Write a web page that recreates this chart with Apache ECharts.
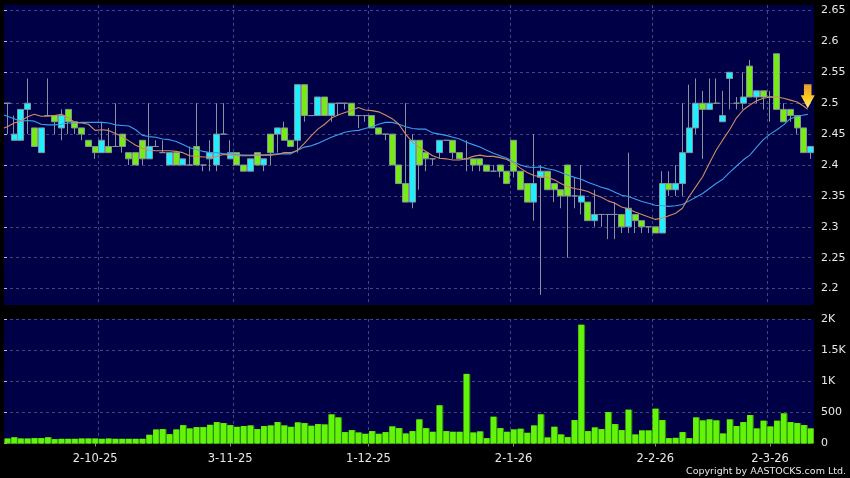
<!DOCTYPE html>
<html><head><meta charset="utf-8">
<style>html,body{margin:0;padding:0;background:#000}#c{width:850px;height:478px}</style>
<script src="https://cdn.jsdelivr.net/npm/echarts@6/dist/echarts.min.js"></script>
</head><body><div id="c"></div>
<script>
// [open, close, low, high]; cyan = close above open, green = close below open
const ohlc = [
[2.5,2.5,2.45,2.5],[2.44,2.45,2.44,2.48],[2.44,2.49,2.44,2.49],[2.49,2.5,2.45,2.54],[2.46,2.43,2.43,2.46],
[2.42,2.46,2.42,2.46],[2.48,2.48,2.48,2.54],[2.48,2.47,2.45,2.48],[2.46,2.48,2.44,2.49],[2.49,2.47,2.45,2.49],
[2.47,2.46,2.45,2.47],[2.46,2.45,2.44,2.46],[2.44,2.43,2.43,2.44],[2.43,2.42,2.41,2.43],[2.42,2.44,2.42,2.47],
[2.43,2.42,2.42,2.46],[2.43,2.43,2.43,2.5],[2.45,2.43,2.42,2.45],[2.42,2.41,2.4,2.42],[2.42,2.4,2.4,2.42],
[2.44,2.41,2.4,2.44],[2.41,2.43,2.41,2.5],[2.43,2.43,2.43,2.44],[2.42,2.42,2.42,2.44],[2.4,2.42,2.4,2.42],
[2.42,2.4,2.4,2.42],[2.4,2.41,2.4,2.41],[2.4,2.4,2.4,2.43],[2.43,2.4,2.4,2.5],[2.4,2.4,2.39,2.4],
[2.41,2.42,2.39,2.44],[2.4,2.45,2.39,2.5],[2.45,2.45,2.45,2.5],[2.41,2.42,2.41,2.44],[2.42,2.4,2.4,2.42],
[2.4,2.39,2.39,2.4],[2.39,2.41,2.39,2.41],[2.42,2.4,2.4,2.42],[2.4,2.41,2.39,2.41],[2.45,2.42,2.4,2.45],
[2.45,2.46,2.42,2.46],[2.46,2.44,2.44,2.47],[2.44,2.43,2.43,2.44],[2.44,2.53,2.42,2.53],[2.53,2.48,2.47,2.53],
[2.48,2.48,2.48,2.48],[2.48,2.51,2.48,2.51],[2.51,2.48,2.48,2.51],[2.48,2.5,2.47,2.5],[2.5,2.5,2.48,2.5],
[2.5,2.5,2.49,2.5],[2.5,2.48,2.48,2.5],[2.48,2.48,2.46,2.48],[2.48,2.48,2.47,2.48],[2.48,2.46,2.46,2.48],
[2.46,2.45,2.45,2.46],[2.45,2.45,2.44,2.45],[2.45,2.4,2.4,2.45],[2.4,2.37,2.37,2.4],[2.37,2.34,2.34,2.5],
[2.34,2.44,2.33,2.45],[2.44,2.4,2.36,2.44],[2.42,2.41,2.39,2.42],[2.41,2.41,2.4,2.41],[2.42,2.44,2.41,2.44],
[2.44,2.44,2.44,2.44],[2.44,2.42,2.41,2.44],[2.42,2.41,2.41,2.42],[2.41,2.41,2.39,2.44],[2.41,2.4,2.39,2.41],
[2.41,2.4,2.39,2.41],[2.4,2.39,2.39,2.4],[2.39,2.39,2.39,2.4],[2.4,2.39,2.38,2.4],[2.39,2.37,2.37,2.39],
[2.44,2.39,2.38,2.44],[2.39,2.36,2.36,2.39],[2.37,2.34,2.34,2.37],[2.34,2.37,2.31,2.45],[2.38,2.39,2.19,2.4],
[2.39,2.36,2.36,2.39],[2.37,2.36,2.34,2.37],[2.36,2.35,2.33,2.36],[2.4,2.35,2.25,2.4],[2.35,2.35,2.33,2.38],
[2.34,2.35,2.32,2.4],[2.34,2.31,2.31,2.34],[2.31,2.32,2.3,2.36],[2.32,2.32,2.3,2.32],[2.32,2.32,2.28,2.32],
[2.32,2.32,2.28,2.34],[2.32,2.3,2.29,2.32],[2.3,2.33,2.29,2.42],[2.32,2.31,2.29,2.32],[2.31,2.3,2.29,2.31],
[2.3,2.3,2.29,2.3],[2.3,2.29,2.29,2.3],[2.29,2.37,2.29,2.39],[2.37,2.36,2.35,2.39],[2.36,2.37,2.35,2.4],
[2.37,2.42,2.35,2.5],[2.42,2.46,2.42,2.53],[2.46,2.5,2.45,2.54],[2.5,2.49,2.41,2.52],[2.49,2.5,2.49,2.54],
[2.5,2.5,2.5,2.54],[2.47,2.48,2.47,2.52],[2.54,2.55,2.49,2.55],[2.5,2.5,2.49,2.51],[2.5,2.51,2.49,2.55],
[2.56,2.51,2.51,2.57],[2.51,2.52,2.5,2.52],[2.52,2.51,2.49,2.52],[2.51,2.51,2.47,2.52],[2.58,2.49,2.49,2.58],
[2.49,2.47,2.47,2.5],[2.49,2.48,2.47,2.49],[2.48,2.46,2.45,2.48],[2.46,2.42,2.42,2.46],[2.42,2.43,2.41,2.43]
];
// moving averages: first value is at the left edge, the rest at each bar centre
const ma10 = [2.46,2.462,2.468,2.471,2.478,2.482,2.479,2.479,2.48,2.482,2.477,2.469,2.468,2.466,2.456,2.457,2.456,2.451,2.446,2.439,
2.432,2.427,2.424,2.423,2.423,2.423,2.422,2.42,2.415,2.414,2.413,2.413,2.414,2.417,2.416,2.415,2.415,2.415,2.416,2.416,
2.416,2.417,2.42,2.42,2.424,2.435,2.447,2.458,2.466,2.476,2.481,2.485,2.488,2.493,2.489,2.488,2.486,2.481,2.475,2.466,
2.45,2.437,2.429,2.422,2.415,2.411,2.41,2.408,2.408,2.41,2.414,2.416,2.414,2.414,2.412,2.409,2.403,2.395,2.388,2.383,
2.381,2.38,2.376,2.37,2.365,2.362,2.36,2.357,2.352,2.348,2.342,2.338,2.332,2.329,2.324,2.32,2.316,2.312,2.314,2.318,
2.322,2.33,2.349,2.365,2.381,2.403,2.424,2.441,2.457,2.476,2.489,2.497,2.504,2.508,2.51,2.51,2.508,2.505,2.502,2.495,2.49];
const ma20 = [2.481,2.479,2.475,2.471,2.472,2.471,2.466,2.465,2.465,2.466,2.468,2.468,2.469,2.469,2.469,2.469,2.468,2.465,2.464,2.463,
2.457,2.448,2.446,2.445,2.442,2.441,2.438,2.433,2.428,2.425,2.422,2.42,2.42,2.418,2.418,2.417,2.416,2.416,2.416,2.416,
2.417,2.418,2.418,2.418,2.424,2.429,2.431,2.435,2.44,2.445,2.449,2.453,2.455,2.456,2.459,2.462,2.466,2.469,2.469,2.466,
2.462,2.459,2.458,2.458,2.452,2.45,2.448,2.445,2.442,2.437,2.433,2.429,2.424,2.419,2.415,2.411,2.405,2.4,2.397,2.396,
2.397,2.394,2.392,2.388,2.384,2.38,2.377,2.372,2.368,2.364,2.361,2.356,2.351,2.349,2.345,2.341,2.338,2.335,2.334,2.333,
2.334,2.336,2.342,2.348,2.354,2.362,2.37,2.377,2.388,2.398,2.408,2.416,2.429,2.441,2.45,2.457,2.465,2.475,2.479,2.481,2.482];
const volume = [80,100,80,80,86,86,100,70,75,75,75,80,80,80,75,80,75,75,75,75,75,140,225,231,150,225,295,242,263,263,
300,344,328,295,268,280,290,231,280,290,344,290,268,339,328,285,312,306,468,419,183,215,177,156,199,156,183,274,247,161,
199,387,247,188,613,199,188,188,1118,177,194,86,430,247,188,226,237,172,290,468,97,269,145,102,376,1908,199,258,231,505,
312,215,543,145,210,210,559,376,86,91,183,86,419,371,387,371,161,387,280,344,457,242,366,274,366,484,344,328,296,242];
const dates = ohlc.map((_, i) => String(i));
const priceTicks = [2.2,2.25,2.3,2.35,2.4,2.45,2.5,2.55,2.6,2.65];
const dateLabels = {13.5:'2-10-25',33.5:'3-11-25',54:'1-12-25',75.5:'2-1-26',96.5:'2-2-26',113.5:'2-3-26'};
const dateGrid = [14,34,54,75,96,113];
const volumeLabel = v => v >= 1000 ? (v/1000)+'K' : String(v);

const GREEN='#77ec14', CYAN='#1ff0ff', EDGE='#84949c', PLOT='#000046', GRIDC='#45457e', TXT='#e8e8e8';
const FONT='"DejaVu Sans"';
const left=4, width=810;
const gridAxis=(gi,extra)=>Object.assign({type:'value',gridIndex:gi,min:0,max:120,silent:true,
  axisLine:{show:false},axisTick:{show:false},axisLabel:{show:false},splitLine:{show:false}},extra);
const catAxis=gi=>({type:'category',gridIndex:gi,data:dates,boundaryGap:true,axisLine:{show:false},axisTick:{show:false},axisLabel:{show:false},splitLine:{show:false}});
const dashed={show:true,lineStyle:{color:GRIDC,type:[3,3],width:1}};
const pos=(v,i)=>[Math.min(i===0?0:i-0.5,119.07),v];

const chart=echarts.init(document.getElementById('c'),null,{renderer:'canvas'});
chart.setOption({
  animation:false,backgroundColor:'#000',
  grid:[
    {left,width,top:5,height:300,backgroundColor:PLOT,show:true,borderWidth:0},
    {left,width,top:319,height:124.5,backgroundColor:PLOT,show:true,borderWidth:0}
  ],
  xAxis:[
    catAxis(0),catAxis(1),
    gridAxis(0,{axisTick:{show:false,customValues:dateGrid},axisLabel:{show:false,customValues:dateGrid},splitLine:dashed}),
    gridAxis(1,{axisTick:{show:false,customValues:dateGrid},axisLabel:{show:false,customValues:dateGrid},splitLine:dashed}),
    gridAxis(1,{position:'bottom',
      axisTick:{show:true,length:3,customValues:Object.keys(dateLabels).map(Number),lineStyle:{color:'#888'}},
      axisLabel:{show:true,customValues:Object.keys(dateLabels).map(Number),formatter:v=>dateLabels[v]||'',color:TXT,fontFamily:FONT,fontSize:11.5,margin:10,hideOverlap:false,showMinLabel:true,showMaxLabel:true}})
  ],
  yAxis:[
    {type:'value',gridIndex:0,position:'right',offset:4,min:2.1735,max:2.6589,interval:0.05,
     axisLine:{show:false},axisTick:{show:true,length:3,customValues:priceTicks,lineStyle:{color:'#bbb'}},
     axisLabel:{color:TXT,fontFamily:FONT,fontSize:11,margin:3,customValues:priceTicks,formatter:v=>String(+v.toFixed(2))},
     splitLine:Object.assign({},dashed,{customValues:priceTicks})},
    {type:'value',gridIndex:1,position:'right',offset:4,min:0,max:2000,interval:500,
     axisLine:{show:false},axisTick:{show:true,length:3,lineStyle:{color:'#bbb'}},
     axisLabel:{color:TXT,fontFamily:FONT,fontSize:11,margin:3,formatter:volumeLabel,showMinLabel:true,showMaxLabel:true},
     splitLine:dashed}
  ],
  series:[
    {type:'candlestick',xAxisIndex:0,yAxisIndex:0,data:ohlc,barWidth:6.6,
     itemStyle:{color:CYAN,color0:GREEN,borderColor:EDGE,borderColor0:EDGE,borderColorDoji:EDGE,borderWidth:1},z:3},
    {type:'line',xAxisIndex:2,yAxisIndex:0,data:ma20.map(pos),showSymbol:false,lineStyle:{color:'#3a9fe8',width:1.1},z:4,silent:true},
    {type:'line',xAxisIndex:2,yAxisIndex:0,data:ma10.map(pos),showSymbol:false,lineStyle:{color:'#d08c62',width:1.1},z:5,silent:true,
     markPoint:{silent:true,symbol:'path://M5.5,0 H18.5 V13 H24 L12,28 L0,13 H5.5 Z',symbolSize:[14,24],symbolOffset:[0,-7],
       itemStyle:{color:new echarts.graphic.LinearGradient(0,0,0,1,[{offset:0,color:'#dd9f30'},{offset:0.55,color:'#ffc81e'},{offset:1,color:'#fff27a'}]),borderWidth:0},
       label:{show:false},data:[{coord:[119.07,2.5]}]}},
    {type:'bar',xAxisIndex:1,yAxisIndex:1,data:volume,barWidth:6.75,barGap:'-100%',itemStyle:{color:'#2f8a0c'},z:3,silent:true},
    {type:'bar',xAxisIndex:1,yAxisIndex:1,data:volume,barWidth:5.6,barGap:'-100%',itemStyle:{color:'#62f50a'},z:4}
  ],
  graphic:[{type:'text',right:4,top:467,style:{text:'Copyright by AASTOCKS.com Ltd.',fill:TXT,font:'9.5px "DejaVu Sans"'}}]
});
</script></body></html>
